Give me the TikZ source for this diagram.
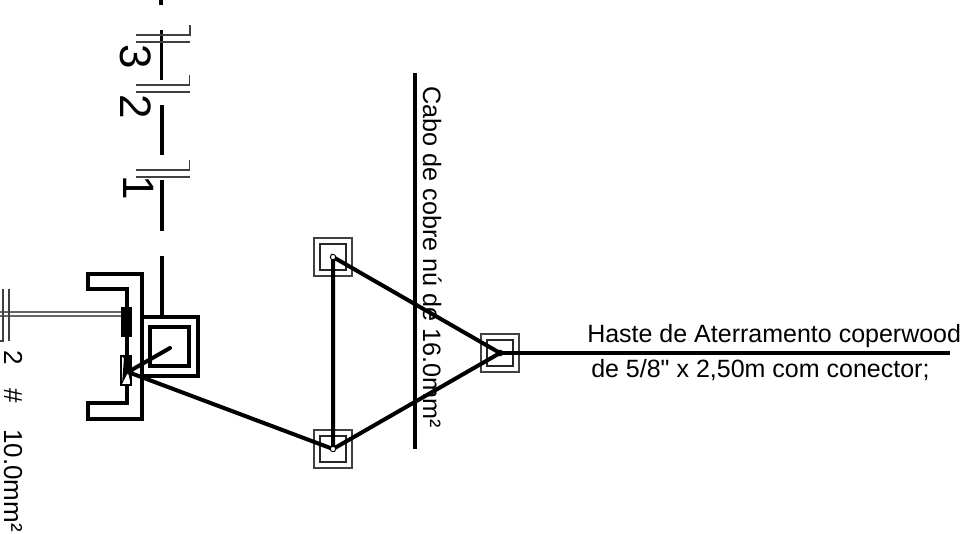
\documentclass[tikz,border=0pt]{standalone}
\usepackage{fontspec}
\setmainfont{Liberation Sans}
\newfontfamily\plainsans{Liberation Sans}
\tikzset{
  x=0.75pt,y=-0.75pt,
  thick line/.style={line width=3pt,black},
  mid line/.style={line width=2.5pt,black},
  thin line/.style={line width=1.1pt,black!75},
  label text/.style={font=\fontsize{18.75}{20}\selectfont,inner sep=0pt,anchor=base west},
  side text/.style={label text,rotate=-90},
  big digit/.style={font=\fontsize{33}{33}\selectfont,inner sep=0pt,rotate=-90},
  rodouter/.style={draw=black!75,line width=1.1pt,fill=none,inner sep=0pt,minimum size=28.5pt},
  rodinner/.style={draw=black!85,line width=1.1pt,fill=none,inner sep=0pt,minimum size=19.5pt},
  pin/.style={circle,draw=black,fill=white,line width=0.7pt,inner sep=0pt,minimum size=4pt},
  pinb/.style={circle,fill=black,inner sep=0pt,minimum size=5pt}
}
\begin{document}
\begin{tikzpicture}
\useasboundingbox (0,0) rectangle (967,533);
% top dashed line
\coordinate (t0) at (161,0); \coordinate (t1) at (161,5);
\coordinate (t2) at (161.5,30); \coordinate (t3) at (161.5,80);
\coordinate (t4) at (162,105); \coordinate (t5) at (162,155);
\coordinate (t6) at (162,180); \coordinate (t7) at (162,231);
\coordinate (t8) at (162,256); \coordinate (t9) at (162,317);
\draw[mid line] (t0)--(t1) (t2)--(t3) (t4)--(t5) (t6)--(t7) (t8)--(t9);
% tick marks
\draw[thin line] (136,35)--(190,35)--(190,25) (136,42)--(190,42);
\draw[thin line] (136,85)--(189.5,85)--(189.5,75) (136,92)--(189.5,92);
\draw[thin line] (136,170)--(189.5,170)--(189.5,160) (136,177)--(189.5,177);
\node[big digit] (d3) at (136,57) {3};
\node[big digit] (d2) at (136,107) {2};
\node[big digit] (d1) at (139,188) {1};
% meter bracket
\draw[thick line,line join=miter] (127,307)--(127,289)--(87.5,289)--(87.5,273.5)--(141.5,273.5)--(141.5,419)--(87.5,419)--(87.5,403)--(127,403)--(127,385);
\draw[mid line] (127,337)--(127,356);
\fill[black] (121,307) rectangle (131.5,337);
\draw[black,line width=0.8pt,fill=white] (121,356) rectangle (131,385);
\fill[black] (121,356)--(131,356)--(131,385)--(128,372)--(122,384)--(124,358)--cycle;
% double conductor
\draw[line width=1.1pt,black!60] (0,312)--(121,312) (0,316)--(121,316);
\draw[thin line] (3,289)--(3,341)--(0,341) (9,289)--(9,341);
% box
\draw[thick line] (142,317) rectangle (198,376);
\draw[thick line] (149.5,327) rectangle (189,366);
% rods
\node[rodouter] (a) at (333,257) {};
\node[rodinner] at (a) {};
\node[rodouter] (b) at (333,449) {};
\node[rodinner] at (b) {};
\node[rodouter] (c) at (500,353) {};
\node[rodinner] at (c) {};
\coordinate (m) at (128,372);
\coordinate (s) at (170,348);
\coordinate (e) at (950,353);
\coordinate (v0) at (415,73);
\coordinate (v1) at (415,449);
\draw[mid line] (v0)--(v1);
\draw[thick line,line cap=round] (s)--(m)--(b.center)--(a.center)--(c.center)--(b.center);
\draw[mid line] (c.center)--(e);
\node[pin] at (a) {};
\node[pin] at (b) {};
\node[pinb] at (c) {};
% text
\node[side text,font=\fontsize{18.9}{20}\selectfont] (cabo) at (423,86) {Cabo de cobre nú de 16.0mm²};
\node[label text] (haste1) at (587,342) {Haste de Aterramento coperwood};
\node[label text] (haste2) at (591,377) {de 5/8{\plainsans"} x 2,50m com conector;};
\node[side text,font=\fontsize{19.5}{20}\selectfont] (bit) at (4,350) {2\hspace{18pt}\#\hspace{19.5pt}10.0mm²};
\end{tikzpicture}
\end{document}
